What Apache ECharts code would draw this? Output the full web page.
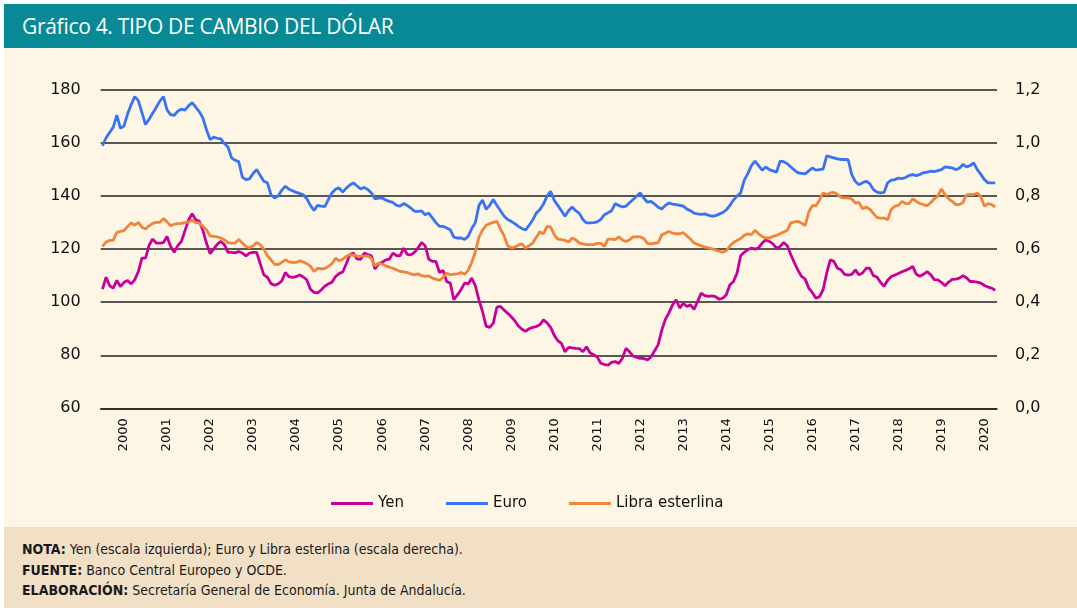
<!DOCTYPE html>
<html>
<head>
<meta charset="UTF-8">
<title>Tipo de cambio del dólar</title>
<script src="https://cdn.jsdelivr.net/npm/echarts/dist/echarts.min.js"></script>
<style>
  body { margin: 0; background: #fff; width: 1077px; height: 608px; position: relative; overflow: hidden; }
  .titulo {
    position: absolute; left: 4px; top: 4px; width: 1073px; height: 44px;
    background: #078a96; color: #fff;
    font-family: "Open Sans", sans-serif; font-size: 21px; line-height: 44px;
    padding-left: 18px; box-sizing: border-box; letter-spacing: -0.3px;
  }
  #chart { position: absolute; left: 4px; top: 48px; width: 1073px; height: 479px; background: #fdf6e4; }
  .notas {
    position: absolute; left: 4px; top: 527px; width: 1073px; height: 81px;
    background: #f2e0c6; box-sizing: border-box; padding: 12px 0 0 18px;
    font-family: "Liberation Sans Narrow", "DejaVu Sans Condensed", sans-serif; font-size: 14px;
    line-height: 20.5px; color: #1a1a1a;
  }
</style>
</head>
<body>
<div class="titulo">Gráfico 4. TIPO DE CAMBIO DEL DÓLAR</div>
<div id="chart"></div>
<div class="notas">
  <div><b>NOTA:</b> Yen (escala izquierda); Euro y Libra esterlina (escala derecha).</div>
  <div><b>FUENTE:</b> Banco Central Europeo y OCDE.</div>
  <div><b>ELABORACIÓN:</b> Secretaría General de Economía. Junta de Andalucía.</div>
</div>
<script>
// datos mensuales, enero 2000 - octubre 2020
var years = [2000, 2001, 2002, 2003, 2004, 2005, 2006, 2007, 2008, 2009, 2010,
             2011, 2012, 2013, 2014, 2015, 2016, 2017, 2018, 2019, 2020];
var lastMonth = 10;

// yenes por dólar (escala izquierda)
var yen = [
  104.9,109.4,106.2,105.3,108.2,105.9,107.5,108.2,106.9,108.5,111.5,116.6,
  116.6,121.5,123.8,122.3,122.3,122.5,124.8,121,118.8,121.3,122.9,127,
  131,133.4,131.1,130.5,127.1,122.3,118.3,120,121.8,122.9,121.7,118.8,
  118.8,118.6,119.1,118.5,117.5,118.5,118.8,118.8,114.5,110.3,109.4,107,
  106.4,106.9,108,111.2,109.6,109.4,109.6,110.3,109.5,108.4,104.9,103.7,
  103.5,104.6,106,106.9,107.5,109.7,110.8,111.4,114.5,118,118.5,116.3,
  116.2,118.5,118,117.5,112.5,114.5,115,116,116.2,118.5,117.6,117.5,
  120.4,118,117.8,118.8,120.5,122.5,121.3,116.2,115.4,115.4,111.2,112,
  107.8,107.2,100.9,102.8,104.7,107.2,106.9,109.1,106.2,100.9,96.5,91,
  90.5,92.1,98.1,98.4,97.1,95.8,94.5,93,91,89.8,89,90,
  90.5,90.8,91.5,93.4,92.2,90.5,87.5,85.5,84.5,81.3,83,82.8,
  82.6,82.5,81.3,83.2,80.9,80.2,79.3,77,76.5,76.3,77.3,77.6,
  76.9,78.8,82.6,81.3,79.7,79.2,78.8,78.8,78.2,79.4,81.7,84,
  89.5,93.5,96,99,100.9,97.8,99.6,98.4,99,97.3,100.3,103.4,
  102.5,102.2,102.4,102.1,101.1,101.5,102.8,106.6,107.8,111,117.5,118.8,
  119.8,120.4,120,120.5,122.3,123.5,122.9,122,120.4,121,122.5,121.3,
  117.9,114.8,112,109.7,108.7,105.3,103.6,101.5,102.1,104.7,111,116,
  115.4,112.8,112.2,110.5,110.2,110.5,112.2,110.3,111,112.8,112.8,110,
  109.5,107.5,106,108.3,109.7,110.2,110.8,111.5,112,112.6,113.5,110.5,
  109.8,110.5,111.5,110.4,108.5,108.4,107.5,106.2,107.6,108.6,108.7,109.1,
  110,109.2,107.8,107.8,107.6,107.2,106.3,105.7,105.3,104.5
];

// euros por dólar (escala derecha)
var euro = [
  0.99,1.02,1.04,1.06,1.105,1.055,1.065,1.11,1.145,1.175,1.16,1.115,
  1.07,1.09,1.112,1.135,1.158,1.175,1.125,1.107,1.104,1.12,1.128,1.124,
  1.14,1.152,1.135,1.118,1.095,1.05,1.013,1.022,1.018,1.016,0.998,0.985,
  0.944,0.935,0.93,0.872,0.862,0.865,0.885,0.9,0.878,0.856,0.85,0.805,
  0.793,0.8,0.822,0.837,0.826,0.82,0.814,0.81,0.805,0.79,0.765,0.746,
  0.765,0.762,0.76,0.787,0.812,0.826,0.831,0.815,0.83,0.842,0.85,0.838,
  0.827,0.833,0.825,0.812,0.79,0.792,0.793,0.785,0.78,0.776,0.765,0.762,
  0.772,0.765,0.755,0.743,0.742,0.744,0.73,0.736,0.718,0.7,0.686,0.686,
  0.68,0.673,0.645,0.642,0.642,0.637,0.648,0.678,0.7,0.765,0.785,0.75,
  0.765,0.787,0.765,0.745,0.725,0.712,0.705,0.696,0.686,0.678,0.672,0.69,
  0.71,0.736,0.749,0.77,0.8,0.818,0.784,0.765,0.745,0.724,0.745,0.759,
  0.745,0.735,0.712,0.699,0.699,0.7,0.703,0.712,0.73,0.737,0.745,0.772,
  0.765,0.759,0.762,0.775,0.787,0.8,0.812,0.792,0.777,0.78,0.77,0.758,
  0.751,0.765,0.774,0.77,0.768,0.765,0.762,0.751,0.745,0.736,0.733,0.731,
  0.733,0.728,0.724,0.726,0.732,0.738,0.748,0.765,0.785,0.8,0.812,0.86,
  0.885,0.915,0.932,0.915,0.898,0.91,0.9,0.895,0.89,0.932,0.93,0.922,
  0.91,0.898,0.888,0.886,0.884,0.895,0.906,0.898,0.9,0.902,0.952,0.948,
  0.944,0.94,0.938,0.938,0.937,0.88,0.855,0.843,0.85,0.856,0.847,0.825,
  0.815,0.812,0.814,0.85,0.86,0.862,0.868,0.866,0.87,0.878,0.881,0.877,
  0.882,0.888,0.89,0.894,0.892,0.896,0.9,0.91,0.908,0.906,0.9,0.905,
  0.919,0.91,0.915,0.925,0.9,0.882,0.862,0.85,0.85,0.85
];

// libras por dólar (escala derecha)
var libra = [
  0.61,0.627,0.633,0.633,0.663,0.667,0.67,0.685,0.699,0.69,0.701,0.683,
  0.676,0.688,0.697,0.701,0.701,0.715,0.703,0.688,0.694,0.696,0.697,0.7,
  0.702,0.709,0.7,0.698,0.686,0.673,0.65,0.648,0.646,0.642,0.635,0.625,
  0.623,0.623,0.636,0.623,0.61,0.606,0.612,0.625,0.617,0.6,0.575,0.56,
  0.543,0.542,0.55,0.56,0.552,0.55,0.55,0.556,0.552,0.545,0.535,0.516,
  0.528,0.526,0.527,0.535,0.545,0.566,0.556,0.562,0.573,0.579,0.577,0.575,
  0.574,0.574,0.575,0.565,0.537,0.547,0.544,0.537,0.532,0.528,0.522,0.516,
  0.514,0.512,0.507,0.503,0.507,0.5,0.497,0.499,0.491,0.487,0.482,0.494,
  0.51,0.503,0.506,0.507,0.512,0.505,0.52,0.55,0.59,0.645,0.672,0.69,
  0.696,0.701,0.705,0.675,0.651,0.613,0.605,0.608,0.615,0.62,0.604,0.613,
  0.623,0.645,0.665,0.658,0.686,0.683,0.655,0.638,0.636,0.633,0.627,0.642,
  0.635,0.623,0.62,0.617,0.617,0.617,0.622,0.622,0.61,0.638,0.638,0.636,
  0.646,0.635,0.629,0.635,0.646,0.646,0.646,0.64,0.622,0.62,0.623,0.624,
  0.654,0.66,0.667,0.66,0.658,0.658,0.662,0.65,0.638,0.623,0.618,0.612,
  0.608,0.605,0.601,0.597,0.592,0.588,0.594,0.612,0.625,0.633,0.64,0.652,
  0.658,0.655,0.671,0.658,0.648,0.642,0.642,0.648,0.652,0.658,0.665,0.671,
  0.699,0.703,0.705,0.698,0.689,0.74,0.764,0.764,0.785,0.812,0.806,0.812,
  0.814,0.806,0.795,0.793,0.793,0.789,0.774,0.776,0.752,0.759,0.751,0.735,
  0.72,0.717,0.717,0.711,0.75,0.762,0.765,0.78,0.772,0.772,0.79,0.78,
  0.772,0.768,0.764,0.775,0.79,0.8,0.827,0.805,0.79,0.78,0.768,0.768,
  0.776,0.805,0.806,0.806,0.812,0.797,0.762,0.772,0.768,0.759
];

// categorías "año-mes"
var meses = [];
years.forEach(function(y) {
  var n = (y === 2020) ? lastMonth : 12;
  for (var m = 1; m <= n; m++) meses.push(y + '-' + (m < 10 ? '0' + m : m));
});

var myChart = echarts.init(document.getElementById('chart'));

var option = {
  animation: false,
  textStyle: { fontFamily: 'DejaVu Sans' },
  grid: { left: 96.7, right: 80, top: 42, bottom: 118.7 },
  legend: {
    top: 443, left: 322,
    icon: 'rect', itemWidth: 42, itemHeight: 3, itemGap: 42,
    textStyle: { fontSize: 15, color: '#111' },
    data: ['Yen', 'Euro', 'Libra esterlina']
  },
  xAxis: {
    type: 'category',
    data: meses,
    boundaryGap: true,
    axisLine: { lineStyle: { color: '#222', width: 1.5 } },
    axisTick: {
      length: 6,
      lineStyle: { color: '#222', width: 1.5 },
      interval: function(index) { return index % 12 === 0; }
    },
    axisLabel: {
      rotate: 90, margin: 10, fontSize: 13, color: '#111',
      interval: function(index) { return index % 12 === 6; },
      formatter: function(v) { return v.slice(0, 4); }
    },
    splitLine: { show: false }
  },
  yAxis: [
    {
      type: 'value', min: 60, max: 180, interval: 20, position: 'left',
      axisLine: { show: false }, axisTick: { show: false },
      axisLabel: { fontSize: 16, color: '#111', margin: 20 },
      splitLine: { lineStyle: { color: '#222', width: 1.5 } }
    },
    {
      type: 'value', min: 0, max: 1.2, interval: 0.2, position: 'right',
      axisLine: { show: false }, axisTick: { show: false },
      axisLabel: {
        fontSize: 16, color: '#111', margin: 18,
        formatter: function(v) { return v.toFixed(1).replace('.', ','); }
      },
      splitLine: { show: false }
    }
  ],
  series: [
    { name: 'Yen', type: 'line', yAxisIndex: 0, data: yen, showSymbol: false,
      lineStyle: { width: 2.8, color: '#c8009b' }, itemStyle: { color: '#c8009b' } },
    { name: 'Euro', type: 'line', yAxisIndex: 1, data: euro, showSymbol: false,
      lineStyle: { width: 2.8, color: '#3a72f6' }, itemStyle: { color: '#3a72f6' } },
    { name: 'Libra esterlina', type: 'line', yAxisIndex: 1, data: libra, showSymbol: false,
      lineStyle: { width: 2.8, color: '#f0843a' }, itemStyle: { color: '#f0843a' } }
  ]
};
myChart.setOption(option);
</script>
</body>
</html>
